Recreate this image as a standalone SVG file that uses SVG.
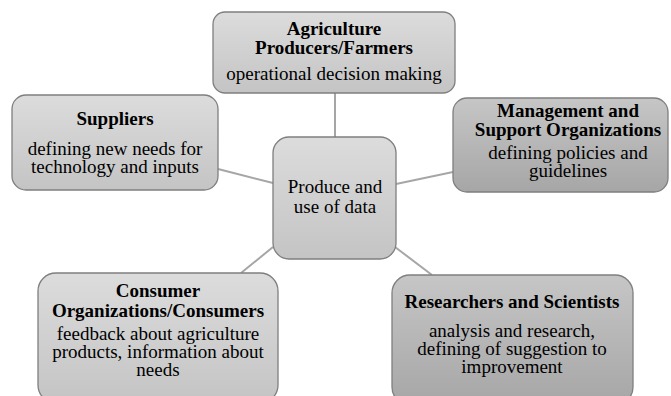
<svg xmlns="http://www.w3.org/2000/svg" width="671" height="396" viewBox="0 0 671 396">
<defs>
<linearGradient id="gl" x1="0" y1="0" x2="0" y2="1"><stop offset="0" stop-color="#dcdcdc"/><stop offset="1" stop-color="#c4c4c4"/></linearGradient>
<linearGradient id="gd" x1="0" y1="0" x2="0" y2="1"><stop offset="0" stop-color="#c6c6c6"/><stop offset="1" stop-color="#a6a6a6"/></linearGradient>
</defs>
<style>
.box{stroke:#7f7f7f;stroke-width:1.3}
.l{fill:url(#gl)}
.d{fill:url(#gd)}
text{font-family:"Liberation Serif","Times New Roman",serif;font-size:19px;fill:#000;text-anchor:middle}
.b{font-weight:bold}
.c line{stroke:#a6a6a6;stroke-width:2}
</style>
<g class="c" id="connectors">
<line x1="335" y1="93" x2="335" y2="137"/>
<line x1="218" y1="169" x2="273" y2="183"/>
<line x1="396" y1="184" x2="453" y2="172"/>
<line x1="273" y1="247" x2="241" y2="273"/>
<line x1="395" y1="247" x2="432" y2="275"/>
</g>
<g id="center">
<rect class="box l" x="273" y="137" width="123" height="122" rx="16"/>
<text x="335" y="193">Produce and</text>
<text x="335" y="213">use of data</text>
</g>
<g id="farmers">
<rect class="box l" x="213" y="12" width="242" height="81" rx="12"/>
<text class="b" x="334" y="35">Agriculture</text>
<text class="b" x="334" y="54">Producers/Farmers</text>
<text x="334" y="80">operational decision making</text>
</g>
<g id="suppliers">
<rect class="box l" x="12" y="95" width="206" height="95" rx="14"/>
<text class="b" x="115" y="125">Suppliers</text>
<text x="115" y="155">defining new needs for</text>
<text x="115" y="173">technology and inputs</text>
</g>
<g id="management">
<rect class="box d" x="453" y="98" width="215" height="94" rx="14"/>
<text class="b" x="568" y="117">Management and</text>
<text class="b" x="568" y="136">Support Organizations</text>
<text x="568" y="159">defining policies and</text>
<text x="568" y="177">guidelines</text>
</g>
<g id="consumers">
<rect class="box l" x="38" y="273" width="240" height="130" rx="18"/>
<text class="b" x="158" y="297">Consumer</text>
<text class="b" x="158" y="317">Organizations/Consumers</text>
<text x="158" y="340">feedback about agriculture</text>
<text x="158" y="358">products, information about</text>
<text x="158" y="376">needs</text>
</g>
<g id="researchers">
<rect class="box d" x="392" y="275" width="241" height="130" rx="18"/>
<text class="b" x="512" y="308">Researchers and Scientists</text>
<text x="512" y="337">analysis and research,</text>
<text x="512" y="355">defining of suggestion to</text>
<text x="512" y="373">improvement</text>
</g>
</svg>
